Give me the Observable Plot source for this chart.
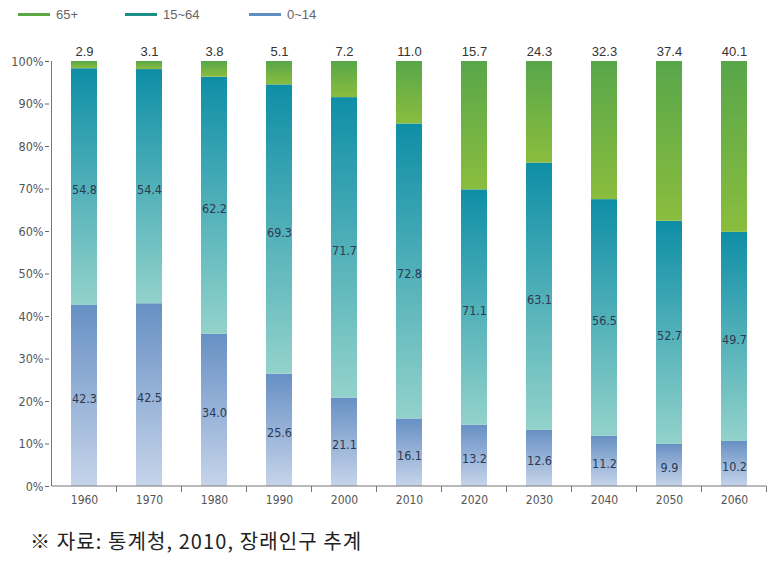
<!DOCTYPE html>
<html>
<head>
<meta charset="utf-8">
<script src="https://cdn.jsdelivr.net/npm/d3@7"></script>
<script src="https://cdn.jsdelivr.net/npm/@observablehq/plot@0.6"></script>
<style>
  body { margin: 0; background: #fff; width: 784px; height: 572px; overflow: hidden; font-family: "DejaVu Sans Condensed", "Liberation Sans", sans-serif; }
  #legend { position: absolute; left: 0; top: 4px; height: 20px; width: 400px; font-family: "Liberation Sans", sans-serif; font-size: 13px; color: #666; }
  .item { position: absolute; top: 0; height: 20px; display: flex; align-items: center; }
  .sw { width: 32px; height: 3px; margin-right: 6px; }
  #chart { position: absolute; left: 0; top: 28px; }
  #caption { position: absolute; left: 30px; top: 526px; font-family: "Noto Sans CJK KR", sans-serif; font-size: 20px; letter-spacing: 1.1px; color: #222; }
</style>
</head>
<body>
<div id="legend"></div>
<div id="chart"></div>
<div id="caption">※ 자료: 통계청, 2010, 장래인구 추계</div>
<script>
const years = ["1960","1970","1980","1990","2000","2010","2020","2030","2040","2050","2060"];
// printed values
const label0_14 = [42.3, 42.5, 34.0, 25.6, 21.1, 16.1, 13.2, 12.6, 11.2, 9.9, 10.2];
const label15_64 = [54.8, 54.4, 62.2, 69.3, 71.7, 72.8, 71.1, 63.1, 56.5, 52.7, 49.7];
const label65 = [2.9, 3.1, 3.8, 5.1, 7.2, 11.0, 15.7, 24.3, 32.3, 37.4, 40.1];
// drawn segment heights (%) as they appear in the picture
const bar0_14 = [42.6, 43.0, 35.8, 26.4, 20.8, 15.9, 14.4, 13.2, 11.8, 9.9, 10.6];
const bar15_64 = [55.7, 55.1, 60.5, 68.1, 70.7, 69.4, 55.4, 62.9, 55.7, 52.5, 49.2];
const bar65 = [1.7, 1.9, 3.7, 5.5, 8.5, 14.7, 30.2, 23.9, 32.5, 37.6, 40.2];
const groups = ["0~14", "15~64", "65+"];
const legendOrder = ["65+", "15~64", "0~14"];
const yTicks = [0, 10, 20, 30, 40, 50, 60, 70, 80, 90, 100];

const gradId = {"0~14": "g014", "15~64": "g1564", "65+": "g65"};
const gradStops = {
  g014: ["#c6d4ea", "#6790c4"],
  g1564: ["#93d2cb", "#0e8ea6"],
  g65: ["#8abd3e", "#58a64a"]
};
const legendColor = {"65+": "#5aa844", "15~64": "#1a9088", "0~14": "#5f8fc2"};
const legendLeft = {"65+": 18, "15~64": 125, "0~14": 249};

const rows = [];
years.forEach((y, i) => {
  rows.push({year: y, group: "0~14", value: bar0_14[i], label: label0_14[i]});
  rows.push({year: y, group: "15~64", value: bar15_64[i], label: label15_64[i]});
  rows.push({year: y, group: "65+", value: bar65[i], label: label65[i]});
});

// legend
const lg = document.getElementById("legend");
legendOrder.forEach(g => {
  const it = document.createElement("div"); it.className = "item"; it.style.left = legendLeft[g] + "px";
  const sw = document.createElement("div"); sw.className = "sw"; sw.style.background = legendColor[g];
  const t = document.createElement("span"); t.textContent = g;
  it.appendChild(sw); it.appendChild(t); lg.appendChild(it);
});

const font = "\"DejaVu Sans Condensed\", \"Liberation Sans\", sans-serif";
const order = {"0~14": 0, "15~64": 1, "65+": 2};

const plot = Plot.plot({
  width: 784,
  height: 490,
  marginLeft: 49,
  marginRight: 16,
  marginTop: 33,
  marginBottom: 32,
  style: {fontFamily: font, fontSize: "12px", color: "#555", background: "transparent"},
  x: {domain: years, paddingInner: 0.6, paddingOuter: 0.3, label: null, axis: null},
  y: {domain: [0, 100], label: null, axis: null},
  color: {type: "identity"},
  marks: [
    Plot.barY(rows, Plot.stackY({
      x: "year", y: "value", order: d => order[d.group],
      fill: d => `url(#${gradId[d.group]})`
    })),
    Plot.text(rows, Plot.stackY({
      filter: d => d.group !== "65+",
      x: "year", y: "value", order: d => order[d.group],
      text: d => d.label.toFixed(1), fill: "#2c3a52", fontSize: 12.5, dy: 3
    })),
    Plot.text(rows, {
      filter: d => d.group === "65+",
      x: "year", y: 100, text: d => d.label.toFixed(1),
      dy: -10, fill: "#333", fontSize: 13, fontFamily: "\"Liberation Sans\", sans-serif"
    }),
    Plot.axisY({ticks: yTicks, tickFormat: d => d + "%", tickSize: 4, tickPadding: 2, stroke: "#666", fill: "#555", fontSize: 12.5}),
    Plot.axisX({tickSize: 0, tickPadding: 9, fill: "#555", fontSize: 12})
  ]
});

// gradients
const svg = d3.select(plot);
const defs = svg.insert("defs", ":first-child");
for (const [id, [bottom, topc]] of Object.entries(gradStops)) {
  const g = defs.append("linearGradient").attr("id", id).attr("x1", 0).attr("y1", 1).attr("x2", 0).attr("y2", 0);
  g.append("stop").attr("offset", "0%").attr("stop-color", bottom);
  g.append("stop").attr("offset", "100%").attr("stop-color", topc);
}
// axis lines and boundary ticks, positioned from the scales
const xs = plot.scale("x"), ys = plot.scale("y");
const step = xs.step;
const bw = xs.bandwidth;
const yBase = ys.apply(0), yTopPx = ys.apply(100);
const ax = svg.append("g").attr("stroke", "#777");
const x0 = xs.apply(years[0]) + bw / 2 - step / 2;
ax.append("line").attr("x1", x0).attr("x2", x0).attr("y1", yTopPx).attr("y2", yBase);
years.forEach((y) => {
  const bx = xs.apply(y) + bw / 2 + step / 2;
  ax.append("line").attr("x1", bx).attr("x2", bx).attr("y1", yBase).attr("y2", yBase + 6);
});
ax.append("line").attr("x1", x0).attr("x2", x0 + step * years.length).attr("y1", yBase).attr("y2", yBase);

document.getElementById("chart").appendChild(plot);
</script>
</body>
</html>
